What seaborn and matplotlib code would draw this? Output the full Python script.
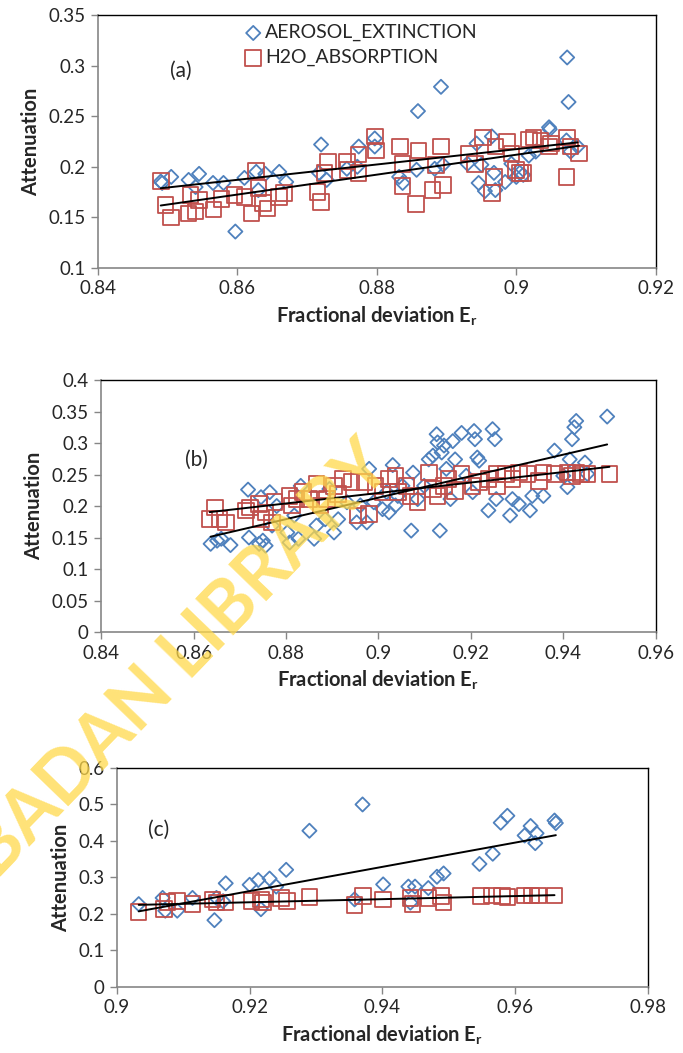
import matplotlib
matplotlib.use("Agg")
import matplotlib.pyplot as plt
import matplotlib.ticker as mticker
import seaborn as sns
import pandas as pd

# panel (a)
a_aer_x = [0.849, 0.8492, 0.8505, 0.853, 0.8545, 0.854, 0.8565, 0.858, 0.8597, 0.861, 0.8627, 0.863,
           0.864, 0.866, 0.867, 0.872, 0.8717, 0.8728, 0.8757, 0.8772, 0.8774, 0.8797, 0.8797, 0.8832,
           0.8837, 0.8857, 0.8859, 0.8883, 0.8892, 0.8895, 0.893, 0.8943, 0.8946, 0.8955, 0.895, 0.8965,
           0.8968, 0.897, 0.8984, 0.8993, 0.9, 0.9005, 0.901, 0.9018, 0.9028, 0.9047, 0.9048, 0.9073,
           0.9075, 0.9072, 0.9078, 0.9088]
a_aer_y = [0.1854, 0.184, 0.190, 0.187, 0.193, 0.180, 0.184, 0.184, 0.136, 0.189, 0.195, 0.177,
           0.193, 0.195, 0.185, 0.222, 0.194, 0.187, 0.198, 0.200, 0.220, 0.228, 0.220, 0.190,
           0.184, 0.197, 0.255, 0.198, 0.279, 0.202, 0.203, 0.223, 0.184, 0.176, 0.202, 0.230,
           0.194, 0.177, 0.185, 0.203, 0.190, 0.194, 0.192, 0.211, 0.215, 0.239, 0.237, 0.308,
           0.264, 0.226, 0.215, 0.220]
a_h2o_x = [0.849, 0.8497, 0.8505, 0.853, 0.8533, 0.854, 0.8545, 0.8566, 0.8577, 0.8596, 0.861, 0.862,
           0.8627, 0.863, 0.8637, 0.8643, 0.866, 0.8667, 0.8715, 0.872, 0.8725, 0.873, 0.8757, 0.8758,
           0.8774, 0.8774, 0.8797, 0.8799, 0.8833, 0.8837, 0.8837, 0.8856, 0.886, 0.888, 0.8885, 0.8892,
           0.8895, 0.8932, 0.8941, 0.8952, 0.8965, 0.8968, 0.897, 0.8987, 0.8993, 0.9, 0.9005, 0.901,
           0.9018, 0.9025, 0.9035, 0.9047, 0.905, 0.9072, 0.9073, 0.9078, 0.909]
a_h2o_y = [0.186, 0.162, 0.150, 0.154, 0.172, 0.156, 0.167, 0.158, 0.168, 0.172, 0.170, 0.154,
           0.196, 0.179, 0.164, 0.159, 0.170, 0.174, 0.175, 0.165, 0.194, 0.205, 0.205, 0.197,
           0.194, 0.212, 0.230, 0.216, 0.220, 0.181, 0.203, 0.163, 0.216, 0.177, 0.202, 0.220,
           0.182, 0.213, 0.203, 0.229, 0.174, 0.190, 0.220, 0.225, 0.213, 0.197, 0.194, 0.194,
           0.227, 0.229, 0.226, 0.220, 0.223, 0.190, 0.229, 0.220, 0.213]

# panel (b)
b_aer_x = [0.8637, 0.8651, 0.866, 0.868, 0.8718, 0.872, 0.8742, 0.8746, 0.875, 0.8756, 0.8765, 0.877,
           0.878, 0.8803, 0.8808, 0.8818, 0.8827, 0.8832, 0.8861, 0.8866, 0.8885, 0.8894, 0.8904, 0.8913,
           0.8932, 0.8953, 0.8961, 0.8975, 0.898, 0.899, 0.9009, 0.9018, 0.9023, 0.9031, 0.9037, 0.9042,
           0.9052, 0.9071, 0.9075, 0.9085, 0.9099, 0.9109, 0.9118, 0.9126, 0.9128, 0.9133, 0.9137, 0.9142,
           0.9147, 0.9156, 0.9161, 0.9166, 0.918, 0.919, 0.9204, 0.9207, 0.9209, 0.9214, 0.9218, 0.9238,
           0.9247, 0.9252, 0.9255, 0.9285, 0.929, 0.9304, 0.9328, 0.9333, 0.9357, 0.9381, 0.94, 0.9409,
           0.9414, 0.9419, 0.9424, 0.9428, 0.9447, 0.9452, 0.9495]
b_aer_y = [0.140, 0.145, 0.148, 0.138, 0.226, 0.150, 0.140, 0.214, 0.145, 0.137, 0.222, 0.169,
           0.200, 0.158, 0.142, 0.185, 0.148, 0.232, 0.148, 0.169, 0.179, 0.227, 0.158, 0.179,
           0.206, 0.174, 0.201, 0.174, 0.259, 0.206, 0.195, 0.222, 0.190, 0.265, 0.201, 0.216,
           0.232, 0.161, 0.253, 0.211, 0.232, 0.274, 0.280, 0.314, 0.301, 0.161, 0.285, 0.296,
           0.259, 0.211, 0.303, 0.274, 0.316, 0.248, 0.222, 0.319, 0.306, 0.277, 0.272, 0.193,
           0.322, 0.306, 0.211, 0.185, 0.211, 0.203, 0.193, 0.216, 0.216, 0.288, 0.248, 0.230,
           0.274, 0.306, 0.325, 0.335, 0.269, 0.251, 0.342]
b_h2o_x = [0.8635, 0.8646, 0.8656, 0.867, 0.8713, 0.8722, 0.8742, 0.8746, 0.8756, 0.877, 0.8775, 0.8808,
           0.8813, 0.8823, 0.8837, 0.8851, 0.8866, 0.8875, 0.8889, 0.8904, 0.8913, 0.8923, 0.8942, 0.8956,
           0.897, 0.898, 0.8994, 0.9009, 0.9023, 0.9037, 0.9042, 0.9061, 0.907, 0.9085, 0.9109, 0.9118,
           0.9128, 0.9142, 0.9152, 0.9166, 0.918, 0.9204, 0.9218, 0.9238, 0.9257, 0.9257, 0.9276, 0.929,
           0.9304, 0.9323, 0.9347, 0.9357, 0.9381, 0.9409, 0.9419, 0.9428, 0.9438, 0.9452, 0.95]
b_h2o_y = [0.179, 0.198, 0.179, 0.174, 0.193, 0.198, 0.203, 0.179, 0.190, 0.174, 0.206, 0.216,
           0.201, 0.211, 0.222, 0.211, 0.235, 0.201, 0.211, 0.232, 0.219, 0.243, 0.238, 0.185,
           0.238, 0.187, 0.232, 0.222, 0.243, 0.248, 0.222, 0.232, 0.216, 0.206, 0.253, 0.227,
           0.216, 0.232, 0.243, 0.224, 0.251, 0.232, 0.238, 0.243, 0.251, 0.232, 0.251, 0.243,
           0.253, 0.251, 0.240, 0.253, 0.251, 0.253, 0.248, 0.253, 0.251, 0.251, 0.251]

# panel (c)
c_aer_x = [0.9033, 0.9069, 0.9073, 0.9091, 0.9114, 0.9147, 0.915, 0.916, 0.9164, 0.92, 0.9213, 0.9217,
           0.923, 0.924, 0.9255, 0.929, 0.9358, 0.937, 0.9401, 0.9439, 0.9442, 0.9449, 0.9469, 0.9482,
           0.9492, 0.9546, 0.9566, 0.9578, 0.9588, 0.9614, 0.9623, 0.963, 0.9632, 0.9659, 0.9661]
c_aer_y = [0.227, 0.244, 0.209, 0.209, 0.244, 0.183, 0.244, 0.235, 0.284, 0.280, 0.293, 0.213,
           0.297, 0.275, 0.321, 0.428, 0.240, 0.500, 0.281, 0.275, 0.231, 0.275, 0.271, 0.302,
           0.311, 0.337, 0.365, 0.450, 0.469, 0.415, 0.441, 0.394, 0.421, 0.456, 0.449]
c_h2o_x = [0.9033, 0.9071, 0.9076, 0.9091, 0.9114, 0.9144, 0.915, 0.9164, 0.9203, 0.9217, 0.922, 0.9247,
           0.9256, 0.929, 0.9358, 0.9371, 0.9401, 0.9442, 0.9445, 0.9469, 0.9488, 0.9492, 0.9548, 0.9565,
           0.958, 0.9588, 0.9614, 0.9624, 0.9634, 0.9659]
c_h2o_y = [0.206, 0.213, 0.233, 0.235, 0.227, 0.240, 0.231, 0.231, 0.235, 0.240, 0.231, 0.244,
           0.235, 0.247, 0.224, 0.249, 0.240, 0.244, 0.227, 0.244, 0.249, 0.231, 0.249, 0.251,
           0.249, 0.246, 0.251, 0.251, 0.251, 0.251]

blue = "#4F81BD"
red = "#C0504D"
grey = "#868686"

sns.set_style("white")
plt.rcParams["font.family"] = ["Lato", "DejaVu Sans"]
plt.rcParams["font.size"] = 13

fig = plt.figure(figsize=(6.83, 10.53), dpi=100)
ax_a = fig.add_axes([0.1435, 0.7455, 0.8165, 0.2403])
ax_b = fig.add_axes([0.148, 0.3998, 0.812, 0.2393])
ax_c = fig.add_axes([0.171, 0.0627, 0.778, 0.2080])

panels = [
    (ax_a, a_aer_x, a_aer_y, a_h2o_x, a_h2o_y, "(a)", (0.84, 0.92, 0.02), (0.1, 0.35, 0.05), (0.129, 0.78)),
    (ax_b, b_aer_x, b_aer_y, b_h2o_x, b_h2o_y, "(b)", (0.84, 0.96, 0.02), (0.0, 0.4, 0.05), (0.151, 0.683)),
    (ax_c, c_aer_x, c_aer_y, c_h2o_x, c_h2o_y, "(c)", (0.9, 0.98, 0.02), (0.0, 0.6, 0.1), (0.058, 0.717)),
]

for ax, ax_x, ax_y, hx, hy, tag, xr, yr, tagpos in panels:
    aer = pd.DataFrame({"x": ax_x, "y": ax_y})
    h2o = pd.DataFrame({"x": hx, "y": hy})
    sns.scatterplot(data=aer, x="x", y="y", ax=ax, marker="D", s=52, color=blue,
                    facecolors="none", edgecolor=blue, linewidth=1.3, label="AEROSOL_EXTINCTION", zorder=3)
    sns.scatterplot(data=h2o, x="x", y="y", ax=ax, marker="s", s=125, color=red,
                    facecolors="none", edgecolor=red, linewidth=1.3, label="H2O_ABSORPTION", zorder=3)
    sns.regplot(data=aer, x="x", y="y", ax=ax, scatter=False, ci=None, truncate=True,
                color="black", line_kws={"lw": 1.4, "zorder": 4})
    sns.regplot(data=h2o, x="x", y="y", ax=ax, scatter=False, ci=None, truncate=True,
                color="black", line_kws={"lw": 1.4, "zorder": 4})

    ax.set_xlim(xr[0], xr[1])
    ax.set_ylim(yr[0], yr[1])
    ax.xaxis.set_major_locator(mticker.MultipleLocator(xr[2]))
    ax.yaxis.set_major_locator(mticker.MultipleLocator(yr[2]))
    fmt = mticker.FuncFormatter(lambda v, p: f"{round(v, 4):g}")
    ax.xaxis.set_major_formatter(fmt)
    ax.yaxis.set_major_formatter(fmt)
    ax.tick_params(axis="both", direction="out", length=5, width=1, color=grey,
                   labelsize=13.5, pad=4, bottom=True, left=True)
    for side in ["left", "bottom"]:
        ax.spines[side].set_color(grey)
        ax.spines[side].set_linewidth(1.2)
    for side in ["top", "right"]:
        ax.spines[side].set_color("black")
        ax.spines[side].set_linewidth(1.0)

    ax.set_xlabel("Fractional deviation E$_\\mathregular{r}$", fontsize=14.5, fontweight="bold", labelpad=5)
    ax.set_ylabel("Attenuation", fontsize=14.5, fontweight="bold", labelpad=5)
    ax.text(tagpos[0], tagpos[1], tag, transform=ax.transAxes, fontsize=15, va="center", ha="left")

    if ax is ax_a:
        ax.legend(loc="upper left", bbox_to_anchor=(0.24, 1.01), frameon=False, fontsize=14,
                  handletextpad=0.1, labelspacing=0.4, handlelength=1.0, borderaxespad=0.2)
    else:
        ax.get_legend().remove()

# yellow library watermark on top of everything (runs off the left edge, as in the scan)
fig.text(0.255, 0.366, "IBADAN LIBRARY", fontsize=52, fontweight="bold", color="#FFD94A",
         alpha=0.75, rotation=46, ha="center", va="center", zorder=10)

fig.savefig("out.png", dpi=100)
